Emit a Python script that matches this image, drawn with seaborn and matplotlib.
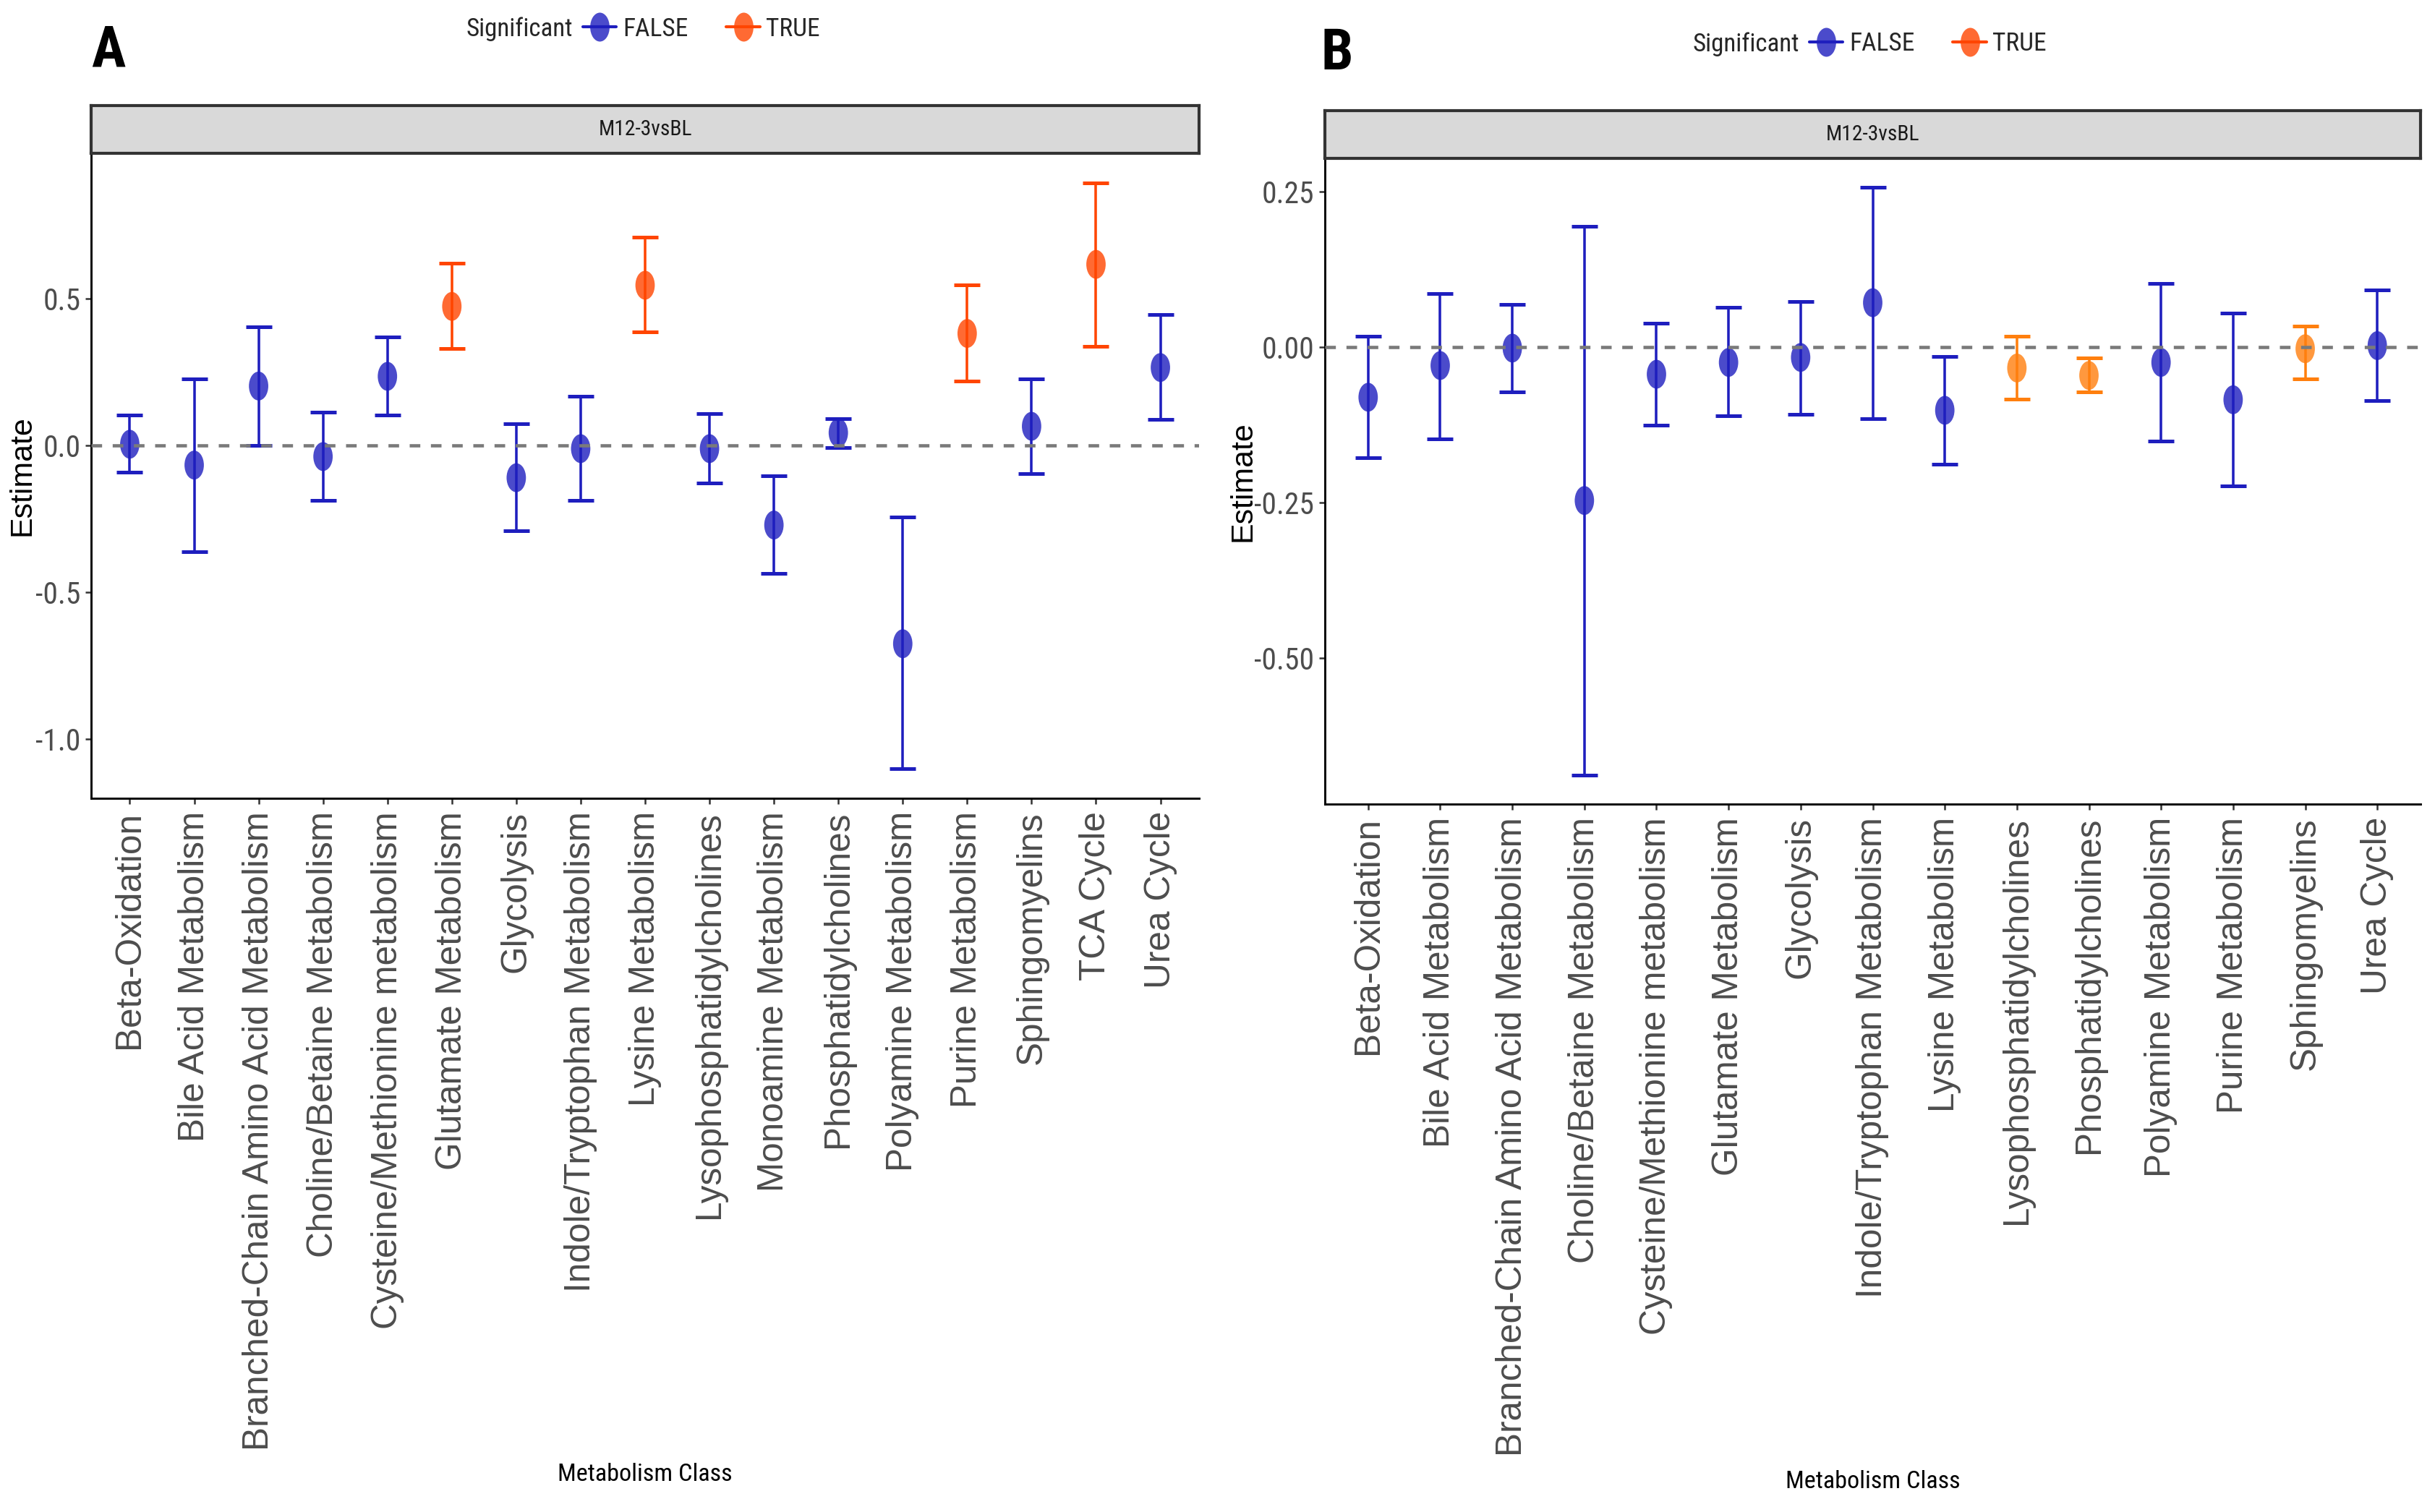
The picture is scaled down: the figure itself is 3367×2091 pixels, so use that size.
import numpy as np
import pandas as pd
import matplotlib
matplotlib.use("Agg")
import matplotlib.pyplot as plt
import seaborn as sns
from matplotlib.path import Path
from matplotlib.transforms import Affine2D
from matplotlib.lines import Line2D
from matplotlib.colors import to_rgba
from matplotlib.offsetbox import HPacker
from matplotlib import font_manager as fm
from matplotlib.ticker import FixedLocator, FixedFormatter

# ---------------- data ----------------
classes_a = ["Beta-Oxidation", "Bile Acid Metabolism", "Branched-Chain Amino Acid Metabolism",
             "Choline/Betaine Metabolism", "Cysteine/Methionine metabolism", "Glutamate Metabolism",
             "Glycolysis", "Indole/Tryptophan Metabolism", "Lysine Metabolism",
             "Lysophosphatidylcholines", "Monoamine Metabolism", "Phosphatidylcholines",
             "Polyamine Metabolism", "Purine Metabolism", "Sphingomyelins", "TCA Cycle", "Urea Cycle"]
est_a = [0.004, -0.067, 0.202, -0.038, 0.235, 0.473, -0.110, -0.011, 0.545, -0.011,
         -0.271, 0.043, -0.675, 0.381, 0.065, 0.616, 0.265]
lo_a = [-0.092, -0.361, 0.000, -0.186, 0.103, 0.329, -0.291, -0.186, 0.386, -0.128,
        -0.435, -0.007, -1.101, 0.220, -0.096, 0.338, 0.088]
hi_a = [0.103, 0.227, 0.404, 0.112, 0.368, 0.619, 0.074, 0.166, 0.709, 0.108,
        -0.103, 0.092, -0.244, 0.545, 0.227, 0.894, 0.446]
sig_a = ["FALSE", "FALSE", "FALSE", "FALSE", "FALSE", "TRUE", "FALSE", "FALSE", "TRUE",
         "FALSE", "FALSE", "FALSE", "FALSE", "TRUE", "FALSE", "TRUE", "FALSE"]

classes_b = ["Beta-Oxidation", "Bile Acid Metabolism", "Branched-Chain Amino Acid Metabolism",
             "Choline/Betaine Metabolism", "Cysteine/Methionine metabolism", "Glutamate Metabolism",
             "Glycolysis", "Indole/Tryptophan Metabolism", "Lysine Metabolism",
             "Lysophosphatidylcholines", "Phosphatidylcholines", "Polyamine Metabolism",
             "Purine Metabolism", "Sphingomyelins", "Urea Cycle"]
est_b = [-0.081, -0.030, -0.002, -0.247, -0.044, -0.025, -0.017, 0.071, -0.102, -0.034,
         -0.046, -0.025, -0.085, -0.003, 0.002]
lo_b = [-0.178, -0.148, -0.073, -0.688, -0.126, -0.111, -0.108, -0.115, -0.189, -0.084,
        -0.072, -0.151, -0.223, -0.051, -0.086]
hi_b = [0.017, 0.086, 0.068, 0.194, 0.038, 0.063, 0.073, 0.256, -0.015, 0.017,
        -0.018, 0.102, 0.054, 0.033, 0.091]
sig_b = ["FALSE", "FALSE", "FALSE", "FALSE", "FALSE", "FALSE", "FALSE", "FALSE", "FALSE",
         "TRUE", "TRUE", "FALSE", "FALSE", "TRUE", "FALSE"]

yticks_a = [-1.0, -0.5, 0.0, 0.5]
yticklabels_a = ["-1.0", "-0.5", "0.0", "0.5"]
yticks_b = [-0.50, -0.25, 0.00, 0.25]
yticklabels_b = ["-0.50", "-0.25", "0.00", "0.25"]
strip_label = "M12-3vsBL"
legend_title = "Significant"
levels = ["FALSE", "TRUE"]

# ---------------- style ----------------
sns.set_style("ticks")
names = {f.name for f in fm.fontManager.ttflist}
if "Liberation Sans Narrow" in names:
    NARROW, NS = "Liberation Sans Narrow", 1.0
elif "Roboto Condensed" in names:
    NARROW, NS = "Roboto Condensed", 1.0
else:
    NARROW, NS = "Liberation Sans", 0.85
NFAM = [NARROW, "DejaVu Sans"]
plt.rcParams["font.family"] = ["Liberation Sans", "DejaVu Sans"]
plt.rcParams["axes.unicode_minus"] = False

BLUE = "#1E1EBE"
ORED = "#FF4500"
ORANGE = "#FF7F0E"
ELL = Path.unit_circle().transformed(Affine2D().scale(0.67, 1.0))

W, H, DPI = 3367, 2091, 300
fig = plt.figure(figsize=(W / DPI, H / DPI), dpi=DPI)


def fx(px):
    return px / W


def fy(py):
    return 1 - py / H


def panel(rect, strip_rect, classes, est, lo, hi, sig, true_color, ylim, yt, ytl, ylab_x, xlab_y):
    ax = fig.add_axes(rect)
    df = pd.DataFrame({"Metabolism Class": classes, "Estimate": est, "lo": lo, "hi": hi,
                       "Significant": sig})
    pal = {"FALSE": BLUE, "TRUE": true_color}
    sns.scatterplot(data=df, x="Metabolism Class", y="Estimate", hue="Significant",
                    hue_order=levels, palette=pal, marker=ELL, s=92, alpha=0.8,
                    linewidth=0, legend=False, ax=ax, zorder=3)
    for lev in levels:
        g = df[df["Significant"] == lev]
        if len(g) == 0:
            continue
        ax.errorbar(g["Metabolism Class"], g["Estimate"],
                    yerr=[g["Estimate"] - g["lo"], g["hi"] - g["Estimate"]],
                    fmt="none", ecolor=pal[lev], elinewidth=0.85, capsize=4.3,
                    capthick=1.2, zorder=2)
    ax.axhline(0, color="#7A7A7A", lw=1.1, ls=(0, (3.2, 3.2)), zorder=4)
    ax.set_xlim(-0.6, len(classes) - 0.4)
    ax.set_ylim(*ylim)
    ax.yaxis.set_major_locator(FixedLocator(yt))
    ax.yaxis.set_major_formatter(FixedFormatter(ytl))
    for s in ["top", "right"]:
        ax.spines[s].set_visible(False)
    for s in ["left", "bottom"]:
        ax.spines[s].set_color("black")
        ax.spines[s].set_linewidth(0.7)
    ax.tick_params(axis="both", length=1.9, width=0.6, color="#333333", labelcolor="#4D4D4D")
    ax.tick_params(axis="x", pad=2.4, labelsize=11.9, labelrotation=90)
    ax.tick_params(axis="y", pad=1.6)
    for t in ax.get_yticklabels():
        t.set_family(NFAM)
        t.set_fontsize(10.0 * NS)
    for t in ax.get_xticklabels():
        t.set_family(["Liberation Sans", "DejaVu Sans"])
    ax.set_xlabel("Metabolism Class", family=NFAM, fontsize=8.2 * NS, color="black")
    ax.set_ylabel("Estimate", fontsize=10.3, color="black")
    ax.xaxis.set_label_coords(0.5, xlab_y)
    ax.yaxis.set_label_coords(ylab_x, 0.5)
    ax.grid(False)

    sax = fig.add_axes(strip_rect)
    sax.set_facecolor("#D9D9D9")
    sax.set_xticks([])
    sax.set_yticks([])
    for s in sax.spines.values():
        s.set_color("#333333")
        s.set_linewidth(1.0)
        s.set_visible(True)
    sax.text(0.5, 0.5, strip_label, ha="center", va="center", family=NFAM,
             fontsize=7.1 * NS, color="#1A1A1A", transform=sax.transAxes)
    return ax


def add_legend(x, y):
    hf = Line2D([0, 1], [0, 0], color=BLUE, lw=1.0, marker=ELL, markersize=9.6,
                markerfacecolor=to_rgba(BLUE, 0.8), markeredgewidth=0)
    ht = Line2D([0, 1], [0, 0], color=ORED, lw=1.0, marker=ELL, markersize=9.6,
                markerfacecolor=to_rgba(ORED, 0.8), markeredgewidth=0)
    leg = fig.legend([hf, ht], levels, title=legend_title, ncol=2, loc="center left",
                     bbox_to_anchor=(x, y), frameon=False, borderpad=0, borderaxespad=0,
                     handlelength=1.3, handletextpad=0.25, columnspacing=1.5,
                     prop={"family": NFAM, "size": 8.5 * NS},
                     title_fontproperties={"family": NFAM, "size": 8.4 * NS})
    try:
        box = HPacker(pad=0, sep=3.5, align="center",
                      children=[leg._legend_title_box, leg._legend_handle_box])
        box.set_figure(fig)
        box.axes = leg.axes
        leg._legend_box = box
        leg._legend_box.set_offset(leg._findoffset)
    except Exception:
        pass
    return leg


# Panel A
panel([fx(126), fy(1104), fx(1658 - 126), (1104 - 212) / H],
      [fx(126), fy(212), fx(1658 - 126), 66 / H],
      classes_a, est_a, lo_a, hi_a, sig_a, ORED, (-1.201, 0.994),
      yticks_a, yticklabels_a, -0.0496, -1.030)
# Panel B
panel([fx(1832), fy(1112), fx(3347 - 1832), (1112 - 219) / H],
      [fx(1832), fy(219), fx(3347 - 1832), 66 / H],
      classes_b, est_b, lo_b, hi_b, sig_b, ORANGE, (-0.735, 0.303),
      yticks_b, yticklabels_b, -0.0614, -1.031)

add_legend(fx(644), fy(40))
add_legend(fx(2340), fy(61))

fig.text(fx(150), fy(71), "A", ha="center", va="center", family=NFAM,
         fontsize=19, fontweight="bold", color="black")
fig.text(fx(1849), fy(75), "B", ha="center", va="center", family=NFAM,
         fontsize=19, fontweight="bold", color="black")

fig.savefig("out.png", dpi=DPI, facecolor="white")
